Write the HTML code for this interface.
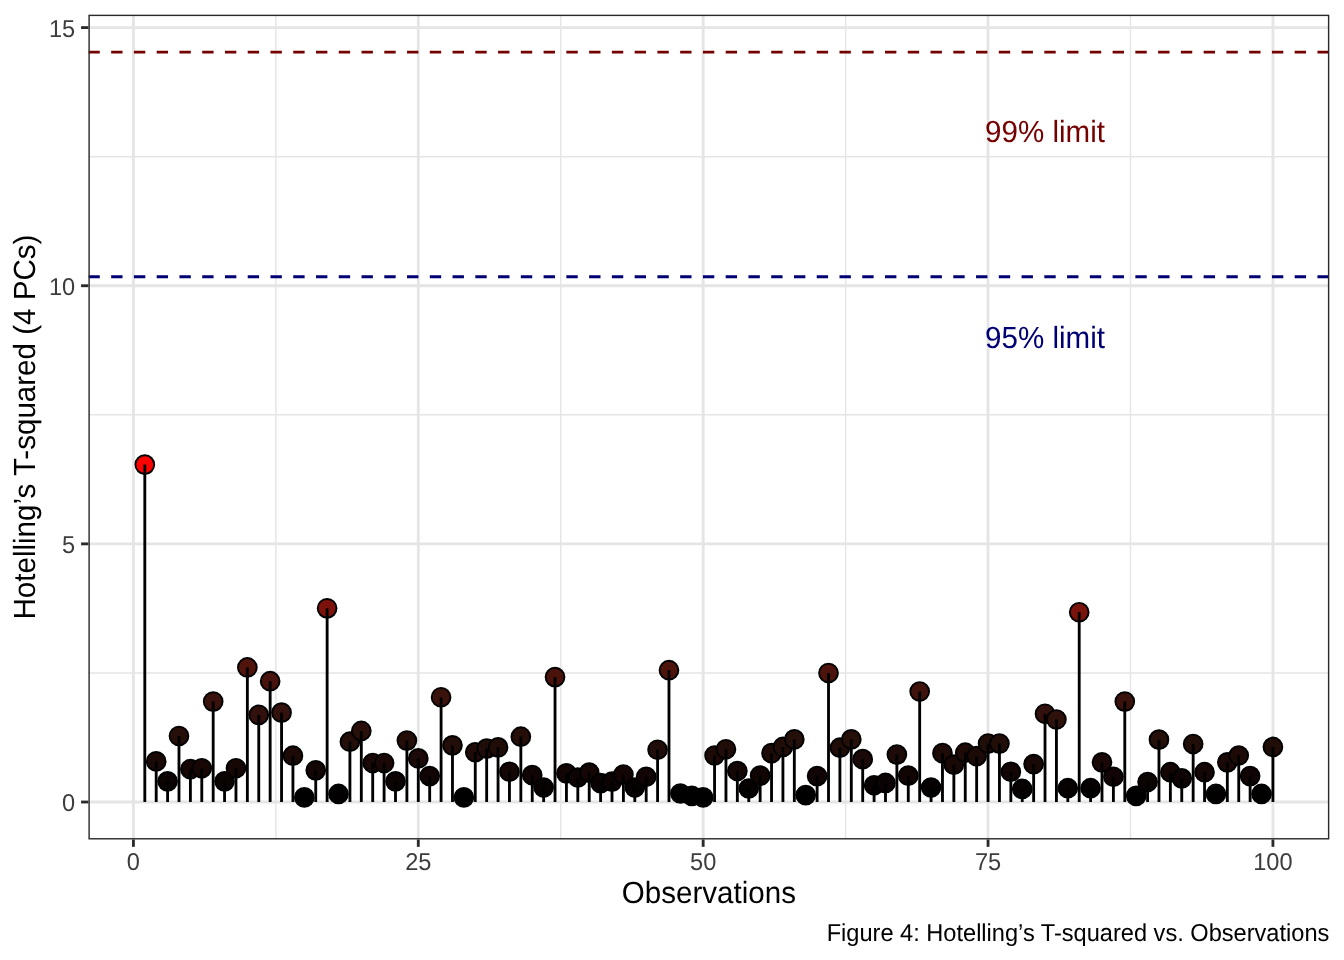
<!DOCTYPE html>
<html><head><meta charset="utf-8"><title>Hotelling T-squared</title>
<style>html,body{margin:0;padding:0;background:#fff;overflow:hidden;}svg{display:block;will-change:transform;}text{font-family:"Liberation Sans",Arial,Helvetica,sans-serif;text-rendering:geometricPrecision;}</style></head><body>
<svg width="1344" height="960" viewBox="0 0 1344 960">
<rect width="1344" height="960" fill="#fff"/>
<defs><clipPath id="pc"><rect x="88.40" y="14.67" width="1240.93" height="824.83"/></clipPath></defs>
<g clip-path="url(#pc)">
<line x1="88.40" x2="1329.33" y1="672.94" y2="672.94" stroke="#E5E5E5" stroke-width="1.42"/>
<line x1="88.40" x2="1329.33" y1="414.80" y2="414.80" stroke="#E5E5E5" stroke-width="1.42"/>
<line x1="88.40" x2="1329.33" y1="156.67" y2="156.67" stroke="#E5E5E5" stroke-width="1.42"/>
<line x1="275.85" x2="275.85" y1="14.67" y2="839.50" stroke="#E5E5E5" stroke-width="1.42"/>
<line x1="560.73" x2="560.73" y1="14.67" y2="839.50" stroke="#E5E5E5" stroke-width="1.42"/>
<line x1="845.61" x2="845.61" y1="14.67" y2="839.50" stroke="#E5E5E5" stroke-width="1.42"/>
<line x1="1130.48" x2="1130.48" y1="14.67" y2="839.50" stroke="#E5E5E5" stroke-width="1.42"/>
<line x1="88.40" x2="1329.33" y1="802.01" y2="802.01" stroke="#E5E5E5" stroke-width="2.85"/>
<line x1="88.40" x2="1329.33" y1="543.87" y2="543.87" stroke="#E5E5E5" stroke-width="2.85"/>
<line x1="88.40" x2="1329.33" y1="285.74" y2="285.74" stroke="#E5E5E5" stroke-width="2.85"/>
<line x1="88.40" x2="1329.33" y1="27.60" y2="27.60" stroke="#E5E5E5" stroke-width="2.85"/>
<line x1="133.41" x2="133.41" y1="14.67" y2="839.50" stroke="#E5E5E5" stroke-width="2.85"/>
<line x1="418.29" x2="418.29" y1="14.67" y2="839.50" stroke="#E5E5E5" stroke-width="2.85"/>
<line x1="703.17" x2="703.17" y1="14.67" y2="839.50" stroke="#E5E5E5" stroke-width="2.85"/>
<line x1="988.05" x2="988.05" y1="14.67" y2="839.50" stroke="#E5E5E5" stroke-width="2.85"/>
<line x1="1272.92" x2="1272.92" y1="14.67" y2="839.50" stroke="#E5E5E5" stroke-width="2.85"/>
<circle cx="144.81" cy="464.62" r="9.4" fill="#FF0000" stroke="#000" stroke-width="1.9"/>
<circle cx="156.20" cy="761.43" r="9.4" fill="#1A0906" stroke="#000" stroke-width="1.9"/>
<circle cx="167.60" cy="781.36" r="9.4" fill="#0C0303" stroke="#000" stroke-width="1.9"/>
<circle cx="178.99" cy="735.98" r="9.4" fill="#260F09" stroke="#000" stroke-width="1.9"/>
<circle cx="190.39" cy="769.22" r="9.4" fill="#150605" stroke="#000" stroke-width="1.9"/>
<circle cx="201.78" cy="768.30" r="9.4" fill="#160705" stroke="#000" stroke-width="1.9"/>
<circle cx="213.18" cy="701.59" r="9.4" fill="#3A120C" stroke="#000" stroke-width="1.9"/>
<circle cx="224.57" cy="781.36" r="9.4" fill="#0C0303" stroke="#000" stroke-width="1.9"/>
<circle cx="235.97" cy="768.30" r="9.4" fill="#160705" stroke="#000" stroke-width="1.9"/>
<circle cx="247.36" cy="667.47" r="9.4" fill="#50140C" stroke="#000" stroke-width="1.9"/>
<circle cx="258.76" cy="714.91" r="9.4" fill="#32110C" stroke="#000" stroke-width="1.9"/>
<circle cx="270.15" cy="681.20" r="9.4" fill="#47130C" stroke="#000" stroke-width="1.9"/>
<circle cx="281.55" cy="712.64" r="9.4" fill="#33110C" stroke="#000" stroke-width="1.9"/>
<circle cx="292.94" cy="755.70" r="9.4" fill="#1D0A07" stroke="#000" stroke-width="1.9"/>
<circle cx="304.34" cy="797.41" r="9.4" fill="#000000" stroke="#000" stroke-width="1.9"/>
<circle cx="315.73" cy="770.36" r="9.4" fill="#140605" stroke="#000" stroke-width="1.9"/>
<circle cx="327.13" cy="608.35" r="9.4" fill="#7C120B" stroke="#000" stroke-width="1.9"/>
<circle cx="338.52" cy="793.95" r="9.4" fill="#020100" stroke="#000" stroke-width="1.9"/>
<circle cx="349.92" cy="741.71" r="9.4" fill="#230E09" stroke="#000" stroke-width="1.9"/>
<circle cx="361.31" cy="730.97" r="9.4" fill="#290F0A" stroke="#000" stroke-width="1.9"/>
<circle cx="372.71" cy="763.03" r="9.4" fill="#190806" stroke="#000" stroke-width="1.9"/>
<circle cx="384.10" cy="763.03" r="9.4" fill="#190806" stroke="#000" stroke-width="1.9"/>
<circle cx="395.50" cy="781.36" r="9.4" fill="#0C0303" stroke="#000" stroke-width="1.9"/>
<circle cx="406.89" cy="740.57" r="9.4" fill="#240E09" stroke="#000" stroke-width="1.9"/>
<circle cx="418.29" cy="758.43" r="9.4" fill="#1B0A07" stroke="#000" stroke-width="1.9"/>
<circle cx="429.68" cy="776.09" r="9.4" fill="#100504" stroke="#000" stroke-width="1.9"/>
<circle cx="441.08" cy="697.26" r="9.4" fill="#3C120C" stroke="#000" stroke-width="1.9"/>
<circle cx="452.47" cy="745.37" r="9.4" fill="#220D08" stroke="#000" stroke-width="1.9"/>
<circle cx="463.87" cy="797.41" r="9.4" fill="#000000" stroke="#000" stroke-width="1.9"/>
<circle cx="475.26" cy="752.24" r="9.4" fill="#1E0B07" stroke="#000" stroke-width="1.9"/>
<circle cx="486.66" cy="748.57" r="9.4" fill="#200C08" stroke="#000" stroke-width="1.9"/>
<circle cx="498.06" cy="747.44" r="9.4" fill="#210D08" stroke="#000" stroke-width="1.9"/>
<circle cx="509.45" cy="771.75" r="9.4" fill="#130605" stroke="#000" stroke-width="1.9"/>
<circle cx="520.85" cy="736.70" r="9.4" fill="#260F09" stroke="#000" stroke-width="1.9"/>
<circle cx="532.24" cy="775.16" r="9.4" fill="#110504" stroke="#000" stroke-width="1.9"/>
<circle cx="543.64" cy="787.55" r="9.4" fill="#070202" stroke="#000" stroke-width="1.9"/>
<circle cx="555.03" cy="677.12" r="9.4" fill="#49130C" stroke="#000" stroke-width="1.9"/>
<circle cx="566.43" cy="773.35" r="9.4" fill="#120504" stroke="#000" stroke-width="1.9"/>
<circle cx="577.82" cy="777.48" r="9.4" fill="#0F0404" stroke="#000" stroke-width="1.9"/>
<circle cx="589.22" cy="772.63" r="9.4" fill="#130605" stroke="#000" stroke-width="1.9"/>
<circle cx="600.61" cy="783.22" r="9.4" fill="#0B0303" stroke="#000" stroke-width="1.9"/>
<circle cx="612.01" cy="781.62" r="9.4" fill="#0C0303" stroke="#000" stroke-width="1.9"/>
<circle cx="623.40" cy="774.49" r="9.4" fill="#120504" stroke="#000" stroke-width="1.9"/>
<circle cx="634.80" cy="787.55" r="9.4" fill="#070202" stroke="#000" stroke-width="1.9"/>
<circle cx="646.19" cy="776.76" r="9.4" fill="#100404" stroke="#000" stroke-width="1.9"/>
<circle cx="657.59" cy="749.76" r="9.4" fill="#200C08" stroke="#000" stroke-width="1.9"/>
<circle cx="668.98" cy="670.20" r="9.4" fill="#4E140C" stroke="#000" stroke-width="1.9"/>
<circle cx="680.38" cy="793.49" r="9.4" fill="#020100" stroke="#000" stroke-width="1.9"/>
<circle cx="691.77" cy="795.81" r="9.4" fill="#010000" stroke="#000" stroke-width="1.9"/>
<circle cx="703.17" cy="797.41" r="9.4" fill="#000000" stroke="#000" stroke-width="1.9"/>
<circle cx="714.56" cy="755.49" r="9.4" fill="#1D0A07" stroke="#000" stroke-width="1.9"/>
<circle cx="725.96" cy="749.30" r="9.4" fill="#200C08" stroke="#000" stroke-width="1.9"/>
<circle cx="737.35" cy="771.03" r="9.4" fill="#140605" stroke="#000" stroke-width="1.9"/>
<circle cx="748.75" cy="788.48" r="9.4" fill="#060201" stroke="#000" stroke-width="1.9"/>
<circle cx="760.14" cy="775.63" r="9.4" fill="#110504" stroke="#000" stroke-width="1.9"/>
<circle cx="771.54" cy="753.17" r="9.4" fill="#1E0B07" stroke="#000" stroke-width="1.9"/>
<circle cx="782.93" cy="746.97" r="9.4" fill="#210D08" stroke="#000" stroke-width="1.9"/>
<circle cx="794.33" cy="739.44" r="9.4" fill="#240F09" stroke="#000" stroke-width="1.9"/>
<circle cx="805.72" cy="795.09" r="9.4" fill="#010000" stroke="#000" stroke-width="1.9"/>
<circle cx="817.12" cy="776.09" r="9.4" fill="#100504" stroke="#000" stroke-width="1.9"/>
<circle cx="828.51" cy="672.99" r="9.4" fill="#4C140C" stroke="#000" stroke-width="1.9"/>
<circle cx="839.91" cy="747.70" r="9.4" fill="#210D08" stroke="#000" stroke-width="1.9"/>
<circle cx="851.30" cy="739.44" r="9.4" fill="#240F09" stroke="#000" stroke-width="1.9"/>
<circle cx="862.70" cy="759.16" r="9.4" fill="#1B0907" stroke="#000" stroke-width="1.9"/>
<circle cx="874.09" cy="785.28" r="9.4" fill="#090202" stroke="#000" stroke-width="1.9"/>
<circle cx="885.49" cy="782.96" r="9.4" fill="#0B0303" stroke="#000" stroke-width="1.9"/>
<circle cx="896.88" cy="754.56" r="9.4" fill="#1D0B07" stroke="#000" stroke-width="1.9"/>
<circle cx="908.28" cy="775.63" r="9.4" fill="#110504" stroke="#000" stroke-width="1.9"/>
<circle cx="919.67" cy="691.53" r="9.4" fill="#40130C" stroke="#000" stroke-width="1.9"/>
<circle cx="931.07" cy="787.55" r="9.4" fill="#070202" stroke="#000" stroke-width="1.9"/>
<circle cx="942.47" cy="753.17" r="9.4" fill="#1E0B07" stroke="#000" stroke-width="1.9"/>
<circle cx="953.86" cy="764.63" r="9.4" fill="#180806" stroke="#000" stroke-width="1.9"/>
<circle cx="965.26" cy="752.70" r="9.4" fill="#1E0B07" stroke="#000" stroke-width="1.9"/>
<circle cx="976.65" cy="756.16" r="9.4" fill="#1C0A07" stroke="#000" stroke-width="1.9"/>
<circle cx="988.05" cy="743.57" r="9.4" fill="#220E08" stroke="#000" stroke-width="1.9"/>
<circle cx="999.44" cy="743.57" r="9.4" fill="#220E08" stroke="#000" stroke-width="1.9"/>
<circle cx="1010.84" cy="771.75" r="9.4" fill="#130605" stroke="#000" stroke-width="1.9"/>
<circle cx="1022.23" cy="788.95" r="9.4" fill="#060201" stroke="#000" stroke-width="1.9"/>
<circle cx="1033.63" cy="764.17" r="9.4" fill="#180806" stroke="#000" stroke-width="1.9"/>
<circle cx="1045.02" cy="713.78" r="9.4" fill="#32110C" stroke="#000" stroke-width="1.9"/>
<circle cx="1056.42" cy="719.51" r="9.4" fill="#2F110C" stroke="#000" stroke-width="1.9"/>
<circle cx="1067.81" cy="788.22" r="9.4" fill="#060201" stroke="#000" stroke-width="1.9"/>
<circle cx="1079.21" cy="612.23" r="9.4" fill="#79130B" stroke="#000" stroke-width="1.9"/>
<circle cx="1090.60" cy="788.22" r="9.4" fill="#060201" stroke="#000" stroke-width="1.9"/>
<circle cx="1102.00" cy="762.36" r="9.4" fill="#190806" stroke="#000" stroke-width="1.9"/>
<circle cx="1113.39" cy="776.76" r="9.4" fill="#100404" stroke="#000" stroke-width="1.9"/>
<circle cx="1124.79" cy="701.59" r="9.4" fill="#3A120C" stroke="#000" stroke-width="1.9"/>
<circle cx="1136.18" cy="795.81" r="9.4" fill="#010000" stroke="#000" stroke-width="1.9"/>
<circle cx="1147.58" cy="782.03" r="9.4" fill="#0C0303" stroke="#000" stroke-width="1.9"/>
<circle cx="1158.97" cy="739.64" r="9.4" fill="#240F09" stroke="#000" stroke-width="1.9"/>
<circle cx="1170.37" cy="772.22" r="9.4" fill="#130605" stroke="#000" stroke-width="1.9"/>
<circle cx="1181.76" cy="778.36" r="9.4" fill="#0F0404" stroke="#000" stroke-width="1.9"/>
<circle cx="1193.16" cy="744.03" r="9.4" fill="#220E08" stroke="#000" stroke-width="1.9"/>
<circle cx="1204.55" cy="772.22" r="9.4" fill="#130605" stroke="#000" stroke-width="1.9"/>
<circle cx="1215.95" cy="793.95" r="9.4" fill="#020100" stroke="#000" stroke-width="1.9"/>
<circle cx="1227.34" cy="762.36" r="9.4" fill="#190806" stroke="#000" stroke-width="1.9"/>
<circle cx="1238.74" cy="755.49" r="9.4" fill="#1D0A07" stroke="#000" stroke-width="1.9"/>
<circle cx="1250.13" cy="776.09" r="9.4" fill="#100504" stroke="#000" stroke-width="1.9"/>
<circle cx="1261.53" cy="793.95" r="9.4" fill="#020100" stroke="#000" stroke-width="1.9"/>
<circle cx="1272.92" cy="746.97" r="9.4" fill="#210D08" stroke="#000" stroke-width="1.9"/>
<line x1="144.81" x2="144.81" y1="802.01" y2="464.62" stroke="#000" stroke-width="2.85"/>
<line x1="156.20" x2="156.20" y1="802.01" y2="761.43" stroke="#000" stroke-width="2.85"/>
<line x1="167.60" x2="167.60" y1="802.01" y2="781.36" stroke="#000" stroke-width="2.85"/>
<line x1="178.99" x2="178.99" y1="802.01" y2="735.98" stroke="#000" stroke-width="2.85"/>
<line x1="190.39" x2="190.39" y1="802.01" y2="769.22" stroke="#000" stroke-width="2.85"/>
<line x1="201.78" x2="201.78" y1="802.01" y2="768.30" stroke="#000" stroke-width="2.85"/>
<line x1="213.18" x2="213.18" y1="802.01" y2="701.59" stroke="#000" stroke-width="2.85"/>
<line x1="224.57" x2="224.57" y1="802.01" y2="781.36" stroke="#000" stroke-width="2.85"/>
<line x1="235.97" x2="235.97" y1="802.01" y2="768.30" stroke="#000" stroke-width="2.85"/>
<line x1="247.36" x2="247.36" y1="802.01" y2="667.47" stroke="#000" stroke-width="2.85"/>
<line x1="258.76" x2="258.76" y1="802.01" y2="714.91" stroke="#000" stroke-width="2.85"/>
<line x1="270.15" x2="270.15" y1="802.01" y2="681.20" stroke="#000" stroke-width="2.85"/>
<line x1="281.55" x2="281.55" y1="802.01" y2="712.64" stroke="#000" stroke-width="2.85"/>
<line x1="292.94" x2="292.94" y1="802.01" y2="755.70" stroke="#000" stroke-width="2.85"/>
<line x1="304.34" x2="304.34" y1="802.01" y2="797.41" stroke="#000" stroke-width="2.85"/>
<line x1="315.73" x2="315.73" y1="802.01" y2="770.36" stroke="#000" stroke-width="2.85"/>
<line x1="327.13" x2="327.13" y1="802.01" y2="608.35" stroke="#000" stroke-width="2.85"/>
<line x1="338.52" x2="338.52" y1="802.01" y2="793.95" stroke="#000" stroke-width="2.85"/>
<line x1="349.92" x2="349.92" y1="802.01" y2="741.71" stroke="#000" stroke-width="2.85"/>
<line x1="361.31" x2="361.31" y1="802.01" y2="730.97" stroke="#000" stroke-width="2.85"/>
<line x1="372.71" x2="372.71" y1="802.01" y2="763.03" stroke="#000" stroke-width="2.85"/>
<line x1="384.10" x2="384.10" y1="802.01" y2="763.03" stroke="#000" stroke-width="2.85"/>
<line x1="395.50" x2="395.50" y1="802.01" y2="781.36" stroke="#000" stroke-width="2.85"/>
<line x1="406.89" x2="406.89" y1="802.01" y2="740.57" stroke="#000" stroke-width="2.85"/>
<line x1="418.29" x2="418.29" y1="802.01" y2="758.43" stroke="#000" stroke-width="2.85"/>
<line x1="429.68" x2="429.68" y1="802.01" y2="776.09" stroke="#000" stroke-width="2.85"/>
<line x1="441.08" x2="441.08" y1="802.01" y2="697.26" stroke="#000" stroke-width="2.85"/>
<line x1="452.47" x2="452.47" y1="802.01" y2="745.37" stroke="#000" stroke-width="2.85"/>
<line x1="463.87" x2="463.87" y1="802.01" y2="797.41" stroke="#000" stroke-width="2.85"/>
<line x1="475.26" x2="475.26" y1="802.01" y2="752.24" stroke="#000" stroke-width="2.85"/>
<line x1="486.66" x2="486.66" y1="802.01" y2="748.57" stroke="#000" stroke-width="2.85"/>
<line x1="498.06" x2="498.06" y1="802.01" y2="747.44" stroke="#000" stroke-width="2.85"/>
<line x1="509.45" x2="509.45" y1="802.01" y2="771.75" stroke="#000" stroke-width="2.85"/>
<line x1="520.85" x2="520.85" y1="802.01" y2="736.70" stroke="#000" stroke-width="2.85"/>
<line x1="532.24" x2="532.24" y1="802.01" y2="775.16" stroke="#000" stroke-width="2.85"/>
<line x1="543.64" x2="543.64" y1="802.01" y2="787.55" stroke="#000" stroke-width="2.85"/>
<line x1="555.03" x2="555.03" y1="802.01" y2="677.12" stroke="#000" stroke-width="2.85"/>
<line x1="566.43" x2="566.43" y1="802.01" y2="773.35" stroke="#000" stroke-width="2.85"/>
<line x1="577.82" x2="577.82" y1="802.01" y2="777.48" stroke="#000" stroke-width="2.85"/>
<line x1="589.22" x2="589.22" y1="802.01" y2="772.63" stroke="#000" stroke-width="2.85"/>
<line x1="600.61" x2="600.61" y1="802.01" y2="783.22" stroke="#000" stroke-width="2.85"/>
<line x1="612.01" x2="612.01" y1="802.01" y2="781.62" stroke="#000" stroke-width="2.85"/>
<line x1="623.40" x2="623.40" y1="802.01" y2="774.49" stroke="#000" stroke-width="2.85"/>
<line x1="634.80" x2="634.80" y1="802.01" y2="787.55" stroke="#000" stroke-width="2.85"/>
<line x1="646.19" x2="646.19" y1="802.01" y2="776.76" stroke="#000" stroke-width="2.85"/>
<line x1="657.59" x2="657.59" y1="802.01" y2="749.76" stroke="#000" stroke-width="2.85"/>
<line x1="668.98" x2="668.98" y1="802.01" y2="670.20" stroke="#000" stroke-width="2.85"/>
<line x1="680.38" x2="680.38" y1="802.01" y2="793.49" stroke="#000" stroke-width="2.85"/>
<line x1="691.77" x2="691.77" y1="802.01" y2="795.81" stroke="#000" stroke-width="2.85"/>
<line x1="703.17" x2="703.17" y1="802.01" y2="797.41" stroke="#000" stroke-width="2.85"/>
<line x1="714.56" x2="714.56" y1="802.01" y2="755.49" stroke="#000" stroke-width="2.85"/>
<line x1="725.96" x2="725.96" y1="802.01" y2="749.30" stroke="#000" stroke-width="2.85"/>
<line x1="737.35" x2="737.35" y1="802.01" y2="771.03" stroke="#000" stroke-width="2.85"/>
<line x1="748.75" x2="748.75" y1="802.01" y2="788.48" stroke="#000" stroke-width="2.85"/>
<line x1="760.14" x2="760.14" y1="802.01" y2="775.63" stroke="#000" stroke-width="2.85"/>
<line x1="771.54" x2="771.54" y1="802.01" y2="753.17" stroke="#000" stroke-width="2.85"/>
<line x1="782.93" x2="782.93" y1="802.01" y2="746.97" stroke="#000" stroke-width="2.85"/>
<line x1="794.33" x2="794.33" y1="802.01" y2="739.44" stroke="#000" stroke-width="2.85"/>
<line x1="805.72" x2="805.72" y1="802.01" y2="795.09" stroke="#000" stroke-width="2.85"/>
<line x1="817.12" x2="817.12" y1="802.01" y2="776.09" stroke="#000" stroke-width="2.85"/>
<line x1="828.51" x2="828.51" y1="802.01" y2="672.99" stroke="#000" stroke-width="2.85"/>
<line x1="839.91" x2="839.91" y1="802.01" y2="747.70" stroke="#000" stroke-width="2.85"/>
<line x1="851.30" x2="851.30" y1="802.01" y2="739.44" stroke="#000" stroke-width="2.85"/>
<line x1="862.70" x2="862.70" y1="802.01" y2="759.16" stroke="#000" stroke-width="2.85"/>
<line x1="874.09" x2="874.09" y1="802.01" y2="785.28" stroke="#000" stroke-width="2.85"/>
<line x1="885.49" x2="885.49" y1="802.01" y2="782.96" stroke="#000" stroke-width="2.85"/>
<line x1="896.88" x2="896.88" y1="802.01" y2="754.56" stroke="#000" stroke-width="2.85"/>
<line x1="908.28" x2="908.28" y1="802.01" y2="775.63" stroke="#000" stroke-width="2.85"/>
<line x1="919.67" x2="919.67" y1="802.01" y2="691.53" stroke="#000" stroke-width="2.85"/>
<line x1="931.07" x2="931.07" y1="802.01" y2="787.55" stroke="#000" stroke-width="2.85"/>
<line x1="942.47" x2="942.47" y1="802.01" y2="753.17" stroke="#000" stroke-width="2.85"/>
<line x1="953.86" x2="953.86" y1="802.01" y2="764.63" stroke="#000" stroke-width="2.85"/>
<line x1="965.26" x2="965.26" y1="802.01" y2="752.70" stroke="#000" stroke-width="2.85"/>
<line x1="976.65" x2="976.65" y1="802.01" y2="756.16" stroke="#000" stroke-width="2.85"/>
<line x1="988.05" x2="988.05" y1="802.01" y2="743.57" stroke="#000" stroke-width="2.85"/>
<line x1="999.44" x2="999.44" y1="802.01" y2="743.57" stroke="#000" stroke-width="2.85"/>
<line x1="1010.84" x2="1010.84" y1="802.01" y2="771.75" stroke="#000" stroke-width="2.85"/>
<line x1="1022.23" x2="1022.23" y1="802.01" y2="788.95" stroke="#000" stroke-width="2.85"/>
<line x1="1033.63" x2="1033.63" y1="802.01" y2="764.17" stroke="#000" stroke-width="2.85"/>
<line x1="1045.02" x2="1045.02" y1="802.01" y2="713.78" stroke="#000" stroke-width="2.85"/>
<line x1="1056.42" x2="1056.42" y1="802.01" y2="719.51" stroke="#000" stroke-width="2.85"/>
<line x1="1067.81" x2="1067.81" y1="802.01" y2="788.22" stroke="#000" stroke-width="2.85"/>
<line x1="1079.21" x2="1079.21" y1="802.01" y2="612.23" stroke="#000" stroke-width="2.85"/>
<line x1="1090.60" x2="1090.60" y1="802.01" y2="788.22" stroke="#000" stroke-width="2.85"/>
<line x1="1102.00" x2="1102.00" y1="802.01" y2="762.36" stroke="#000" stroke-width="2.85"/>
<line x1="1113.39" x2="1113.39" y1="802.01" y2="776.76" stroke="#000" stroke-width="2.85"/>
<line x1="1124.79" x2="1124.79" y1="802.01" y2="701.59" stroke="#000" stroke-width="2.85"/>
<line x1="1136.18" x2="1136.18" y1="802.01" y2="795.81" stroke="#000" stroke-width="2.85"/>
<line x1="1147.58" x2="1147.58" y1="802.01" y2="782.03" stroke="#000" stroke-width="2.85"/>
<line x1="1158.97" x2="1158.97" y1="802.01" y2="739.64" stroke="#000" stroke-width="2.85"/>
<line x1="1170.37" x2="1170.37" y1="802.01" y2="772.22" stroke="#000" stroke-width="2.85"/>
<line x1="1181.76" x2="1181.76" y1="802.01" y2="778.36" stroke="#000" stroke-width="2.85"/>
<line x1="1193.16" x2="1193.16" y1="802.01" y2="744.03" stroke="#000" stroke-width="2.85"/>
<line x1="1204.55" x2="1204.55" y1="802.01" y2="772.22" stroke="#000" stroke-width="2.85"/>
<line x1="1215.95" x2="1215.95" y1="802.01" y2="793.95" stroke="#000" stroke-width="2.85"/>
<line x1="1227.34" x2="1227.34" y1="802.01" y2="762.36" stroke="#000" stroke-width="2.85"/>
<line x1="1238.74" x2="1238.74" y1="802.01" y2="755.49" stroke="#000" stroke-width="2.85"/>
<line x1="1250.13" x2="1250.13" y1="802.01" y2="776.09" stroke="#000" stroke-width="2.85"/>
<line x1="1261.53" x2="1261.53" y1="802.01" y2="793.95" stroke="#000" stroke-width="2.85"/>
<line x1="1272.92" x2="1272.92" y1="802.01" y2="746.97" stroke="#000" stroke-width="2.85"/>
<line x1="88.40" x2="1329.33" y1="52.16" y2="52.16" stroke="#740000" stroke-width="2.85" stroke-dasharray="11.38 11.38"/>
<line x1="88.40" x2="1329.33" y1="276.74" y2="276.74" stroke="#000074" stroke-width="2.85" stroke-dasharray="11.38 11.38"/>
<text transform="translate(1045.02 141.95) scale(1 1.035)" font-size="29.55" fill="#740000" text-anchor="middle">99% limit</text>
<text transform="translate(1045.02 348.46) scale(1 1.035)" font-size="29.55" fill="#000074" text-anchor="middle">95% limit</text>
</g>
<rect x="89.11" y="15.38" width="1239.51" height="823.41" fill="none" stroke="#2A2A2A" stroke-width="1.42"/>
<line x1="81.07" x2="88.40" y1="802.01" y2="802.01" stroke="#2A2A2A" stroke-width="2.85"/>
<text transform="translate(75.20 811.41) scale(1 1.035)" font-size="23.60" fill="#3D3D3D" text-anchor="end">0</text>
<line x1="81.07" x2="88.40" y1="543.87" y2="543.87" stroke="#2A2A2A" stroke-width="2.85"/>
<text transform="translate(75.20 553.27) scale(1 1.035)" font-size="23.60" fill="#3D3D3D" text-anchor="end">5</text>
<line x1="81.07" x2="88.40" y1="285.74" y2="285.74" stroke="#2A2A2A" stroke-width="2.85"/>
<text transform="translate(75.20 295.14) scale(1 1.035)" font-size="23.60" fill="#3D3D3D" text-anchor="end">10</text>
<line x1="81.07" x2="88.40" y1="27.60" y2="27.60" stroke="#2A2A2A" stroke-width="2.85"/>
<text transform="translate(75.20 37.00) scale(1 1.035)" font-size="23.60" fill="#3D3D3D" text-anchor="end">15</text>
<line x1="133.41" x2="133.41" y1="839.50" y2="846.83" stroke="#2A2A2A" stroke-width="2.85"/>
<text transform="translate(133.41 870.00) scale(1 1.035)" font-size="23.60" fill="#3D3D3D" text-anchor="middle">0</text>
<line x1="418.29" x2="418.29" y1="839.50" y2="846.83" stroke="#2A2A2A" stroke-width="2.85"/>
<text transform="translate(418.29 870.00) scale(1 1.035)" font-size="23.60" fill="#3D3D3D" text-anchor="middle">25</text>
<line x1="703.17" x2="703.17" y1="839.50" y2="846.83" stroke="#2A2A2A" stroke-width="2.85"/>
<text transform="translate(703.17 870.00) scale(1 1.035)" font-size="23.60" fill="#3D3D3D" text-anchor="middle">50</text>
<line x1="988.05" x2="988.05" y1="839.50" y2="846.83" stroke="#2A2A2A" stroke-width="2.85"/>
<text transform="translate(988.05 870.00) scale(1 1.035)" font-size="23.60" fill="#3D3D3D" text-anchor="middle">75</text>
<line x1="1272.92" x2="1272.92" y1="839.50" y2="846.83" stroke="#2A2A2A" stroke-width="2.85"/>
<text transform="translate(1272.92 870.00) scale(1 1.035)" font-size="23.60" fill="#3D3D3D" text-anchor="middle">100</text>
<text transform="translate(708.87 903.4) scale(1 1.035)" font-size="29.55" fill="#000" text-anchor="middle">Observations</text>
<text transform="translate(35.4 427.08) rotate(-90) scale(1 1.035)" font-size="29.55" fill="#000" text-anchor="middle">Hotelling’s T-squared (4 PCs)</text>
<text transform="translate(1329.33 941.0) scale(1 1.035)" font-size="23.60" fill="#000" text-anchor="end">Figure 4: Hotelling’s T-squared vs. Observations</text>
</svg>
</body></html>
